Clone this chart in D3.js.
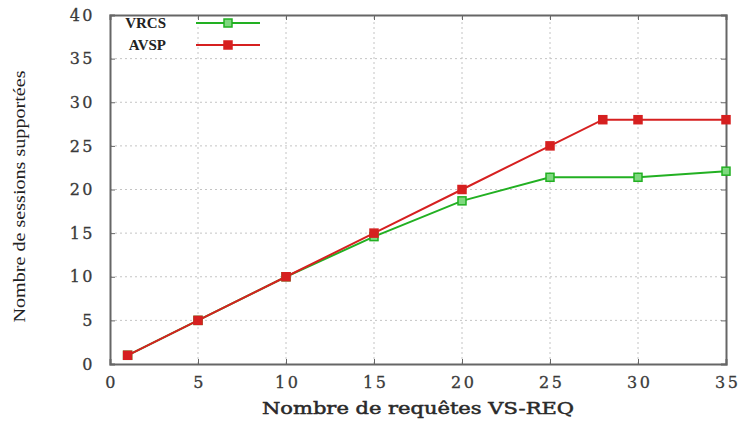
<!DOCTYPE html>
<html>
<head>
<meta charset="utf-8">
<script src="https://cdn.jsdelivr.net/npm/d3@7"></script>
<style>
  html, body { margin: 0; padding: 0; background: #fff; }
  svg { display: block; font-family: "DejaVu Serif", "Liberation Serif", serif; }
</style>
</head>
<body>
<svg id="chart" width="742" height="425"></svg>
<script>
const xTicks = [0, 5, 10, 15, 20, 25, 30, 35];
const yTicks = [0, 5, 10, 15, 20, 25, 30, 35, 40];

const vrcsX = [1, 5, 10, 15, 20, 25, 30, 35];
const vrcsY = [1, 5, 10, 14.6, 18.7, 21.4, 21.4, 22.1];

const avspX = [1, 5, 10, 15, 20, 25, 28, 30, 35];
const avspY = [1, 5, 10, 15, 20, 25, 28, 28, 28];

const seriesNames = ['VRCS', 'AVSP'];
const seriesColors = ['#22b022', '#d62020'];

const W = 742, H = 425;
const m = { left: 110, right: 16, top: 15, bottom: 61 };

const svg = d3.select('#chart');

const x = d3.scaleLinear().domain([0, 35]).range([m.left, W - m.right]);
const y = d3.scaleLinear().domain([0, 40]).range([H - m.bottom, m.top]);

// grid
const grid = svg.append('g').attr('stroke', '#c4c4c4').attr('stroke-width', 1)
  .attr('stroke-dasharray', '2,3');
grid.selectAll('.gx').data(xTicks.slice(1, -1)).join('line')
  .attr('x1', d => x(d)).attr('x2', d => x(d))
  .attr('y1', y(0)).attr('y2', y(40));
grid.selectAll('.gy').data(yTicks.slice(1, -1)).join('line')
  .attr('x1', x(0)).attr('x2', x(35))
  .attr('y1', d => y(d)).attr('y2', d => y(d));

// axes (ticks inward, mirrored)
const fmt = d3.format('d');
const axB = svg.append('g').attr('transform', `translate(0,${y(0)})`)
  .call(d3.axisBottom(x).tickValues(xTicks).tickSize(-5).tickPadding(13).tickFormat(fmt));
const axT = svg.append('g').attr('transform', `translate(0,${y(40)})`)
  .call(d3.axisTop(x).tickValues(xTicks).tickSize(-5).tickFormat(''));
const axL = svg.append('g').attr('transform', `translate(${x(0)},0)`)
  .call(d3.axisLeft(y).tickValues(yTicks).tickSize(-5).tickPadding(15).tickFormat(fmt));
const axR = svg.append('g').attr('transform', `translate(${x(35)},0)`)
  .call(d3.axisRight(y).tickValues(yTicks).tickSize(-5).tickFormat(''));

[axB, axT, axL, axR].forEach(a => {
  a.select('.domain').attr('stroke', '#666').attr('stroke-width', 2);
  a.selectAll('.tick line').attr('stroke', '#666');
  a.selectAll('text').attr('font-family', '"DejaVu Serif", serif')
    .attr('font-size', 16).attr('fill', '#3a3a3a').attr('letter-spacing', 2.5)
    .attr('stroke', '#3a3a3a').attr('stroke-width', 0.3);
});
axB.selectAll('text').attr('dx', 1.2);

// series
const series = [
  { name: seriesNames[0], color: seriesColors[0], pts: vrcsX.map((v, i) => [v, vrcsY[i]]), hollow: true },
  { name: seriesNames[1], color: seriesColors[1], pts: avspX.map((v, i) => [v, avspY[i]]), hollow: false }
];

const line = d3.line().x(d => x(d[0])).y(d => y(d[1]));

series.forEach(s => {
  svg.append('path').datum(s.pts)
    .attr('fill', 'none').attr('stroke', s.color).attr('stroke-width', 2)
    .attr('d', line);
  svg.selectAll(null).data(s.pts).join('rect')
    .attr('x', d => x(d[0]) - 4).attr('y', d => y(d[1]) - 4)
    .attr('width', 8).attr('height', 8)
    .attr('fill', s.hollow ? '#7fd87f' : s.color)
    .attr('stroke', s.color).attr('stroke-width', 1.5);
});

// legend
const leg = svg.append('g');
series.forEach((s, i) => {
  const ly = 23 + i * 22;
  leg.append('text').attr('x', 166).attr('y', ly + 5)
    .attr('text-anchor', 'end').attr('font-size', 15).attr('font-weight', 'bold')
    .attr('font-family', '"Liberation Serif", serif').attr('fill', '#222')
    .text(s.name);
  leg.append('line').attr('x1', 196).attr('x2', 260).attr('y1', ly).attr('y2', ly)
    .attr('stroke', s.color).attr('stroke-width', 2);
  leg.append('rect').attr('x', 224).attr('y', ly - 4).attr('width', 8).attr('height', 8)
    .attr('fill', s.hollow ? '#7fd87f' : s.color).attr('stroke', s.color).attr('stroke-width', 1.5);
});

// axis titles
svg.append('text').attr('x', (x(0) + x(35)) / 2).attr('y', 414)
  .attr('text-anchor', 'middle').attr('font-size', 17)
  .attr('font-family', '"DejaVu Serif", serif').attr('fill', '#2a2a2a')
  .attr('stroke', '#2a2a2a').attr('stroke-width', 0.5)
  .attr('textLength', 312).attr('lengthAdjust', 'spacingAndGlyphs')
  .text('Nombre de requêtes VS-REQ');

svg.append('text')
  .attr('transform', `translate(25,${(y(0) + y(40)) / 2 + 7}) rotate(-90)`)
  .attr('text-anchor', 'middle').attr('font-size', 16)
  .attr('font-family', '"Liberation Serif", serif').attr('fill', '#222')
  .attr('textLength', 252).attr('lengthAdjust', 'spacingAndGlyphs')
  .text('Nombre de sessions supportées');
</script>
</body>
</html>
